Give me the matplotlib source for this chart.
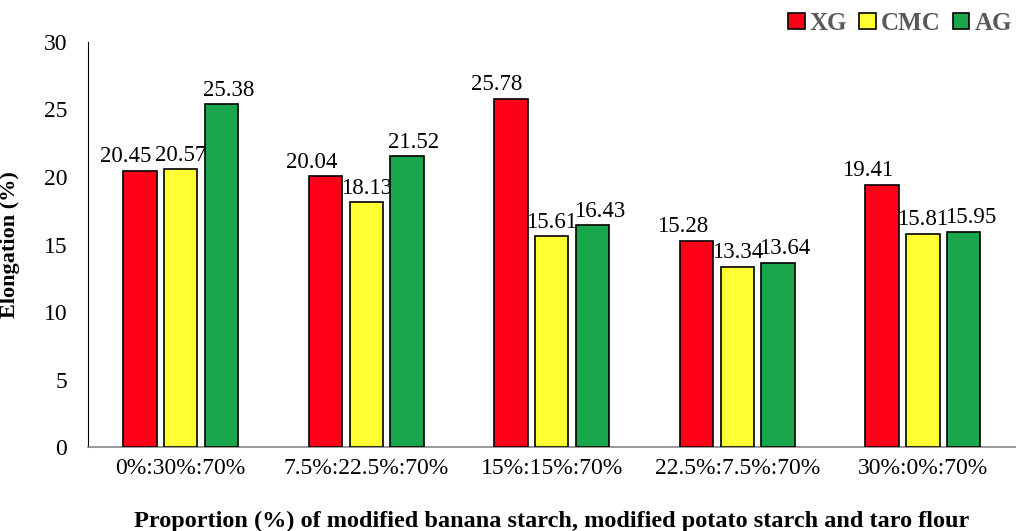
import matplotlib
matplotlib.use("Agg")
import matplotlib.pyplot as plt
import numpy as np

categories = ["0%:30%:70%", "7.5%:22.5%:70%", "15%:15%:70%", "22.5%:7.5%:70%", "30%:0%:70%"]
series_names = ["XG", "CMC", "AG"]
xg = [20.45, 20.04, 25.78, 15.28, 19.41]
cmc = [20.57, 18.13, 15.61, 13.34, 15.81]
ag = [25.38, 21.52, 16.43, 13.64, 15.95]
colors = ["#FF0019", "#FFFF33", "#1AA64A"]

plt.rcParams['font.family'] = ['Liberation Serif', 'DejaVu Serif']

fig = plt.figure(figsize=(10.16, 5.31), dpi=100)
ax = fig.add_axes([0.0866, 0.158, 0.913, 0.763])

x = np.arange(len(categories))
width = 0.18
offset = 0.22
label_shift = [-10, 0, 5]  # points, horizontal nudge of value labels per series
for i, (vals, name, c) in enumerate(zip([xg, cmc, ag], series_names, colors)):
    pos = x + (i - 1) * offset
    bars = ax.bar(pos, vals, width, color=c, edgecolor="black", linewidth=1.2, label=name, zorder=3)
    for b, v in zip(bars, vals):
        ax.annotate(f"{v:.2f}", (b.get_x() + b.get_width() / 2, v),
                    xytext=(label_shift[i], 2.5), textcoords="offset points",
                    ha="center", va="bottom", fontsize=16.5)

ax.set_xlim(-0.5, 4.5)
ax.set_ylim(0, 30)
ax.set_yticks(range(0, 31, 5))
ax.set_xticks(x)
ax.set_xticklabels(categories)
ax.tick_params(axis="both", length=0, labelsize=17)
ax.tick_params(axis="x", pad=8)
ax.tick_params(axis="y", pad=15)
ax.spines["top"].set_visible(False)
ax.spines["right"].set_visible(False)
ax.spines["left"].set_color("black")
ax.spines["bottom"].set_color("#888888")
ax.spines["bottom"].set_linewidth(1.2)

ax.set_ylabel("Elongation (%)", fontsize=16, fontweight="bold")
ax.yaxis.set_label_coords(-0.073, 0.5)
ax.set_xlabel("Proportion (%) of modified banana starch, modified potato starch and taro flour",
              fontsize=17.5, fontweight="bold", labelpad=23)

leg = ax.legend(loc="upper right", bbox_to_anchor=(1.02, 1.13), ncol=3, frameon=False,
                handlelength=0.65, handleheight=0.65, handletextpad=0.2, columnspacing=0.5,
                prop={"weight": "bold", "size": 18})
for t in leg.get_texts():
    t.set_color("#595959")

fig.savefig("out.png", dpi=100)
